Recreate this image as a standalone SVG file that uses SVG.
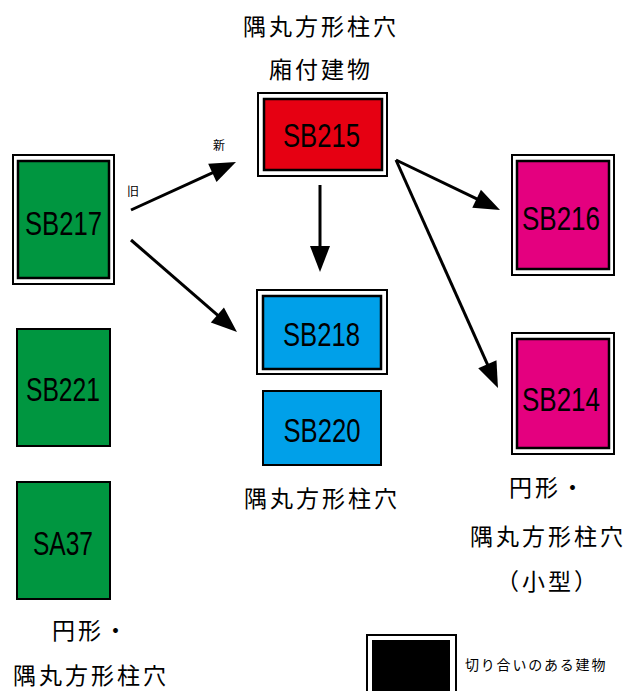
<svg xmlns="http://www.w3.org/2000/svg" width="630" height="691" viewBox="0 0 630 691">
<style>
.o{fill:#fff;stroke:#000;stroke-width:2}
.i{stroke:#000;stroke-width:2.5}
.s{stroke:#000;stroke-width:2}
.g{fill:#009640}.r{fill:#e60012}.b{fill:#00a0e9}.m{fill:#e4007f}.k{fill:#000}
.lb{font-family:"Liberation Sans","DejaVu Sans",sans-serif;font-size:34px;fill:#000;text-anchor:middle}
.jp{font-family:"Noto Sans CJK JP","Noto Sans",sans-serif;font-size:23px;letter-spacing:3px;fill:#000;text-anchor:middle}
.sm{font-family:"Noto Sans CJK JP","Noto Sans",sans-serif;font-size:12px;fill:#000}
.lg{font-family:"Noto Sans CJK JP","Noto Sans",sans-serif;font-size:14px;letter-spacing:1.8px;fill:#000}
.c{stroke:#000;stroke-width:3;fill:none;marker-end:url(#ah)}
</style>
<defs>
<marker id="ah" markerUnits="userSpaceOnUse" markerWidth="26" markerHeight="20" refX="6" refY="10" orient="auto" overflow="visible">
<path d="M0,0 L26,10 L0,20 z" fill="#000"/>
</marker>
</defs>
<g id="title">
<text class="jp" x="321" y="35">隅丸方形柱穴</text>
<text class="jp" x="321" y="78">廂付建物</text>
</g>
<g id="SB215">
<rect class="o" x="258" y="93" width="129" height="83"/>
<rect class="i r" x="264" y="99" width="118" height="71"/>
<text class="lb" x="321.5" y="147" textLength="77" lengthAdjust="spacingAndGlyphs">SB215</text>
</g>
<g id="SB217">
<rect class="o" x="13" y="155" width="101" height="129"/>
<rect class="i g" x="18" y="161" width="91" height="117"/>
<text class="lb" x="63.5" y="235" textLength="77" lengthAdjust="spacingAndGlyphs">SB217</text>
</g>
<g id="SB218">
<rect class="o" x="257" y="290" width="130" height="84"/>
<rect class="i b" x="263" y="296" width="118" height="73"/>
<text class="lb" x="321.5" y="346" textLength="77" lengthAdjust="spacingAndGlyphs">SB218</text>
</g>
<g id="SB220">
<rect class="s b" x="263" y="391" width="118" height="74"/>
<text class="lb" x="322" y="442" textLength="77" lengthAdjust="spacingAndGlyphs">SB220</text>
</g>
<g id="SB216">
<rect class="o" x="512" y="155" width="102" height="120"/>
<rect class="i m" x="517" y="161" width="92" height="108"/>
<text class="lb" x="561" y="230" textLength="78" lengthAdjust="spacingAndGlyphs">SB216</text>
</g>
<g id="SB214">
<rect class="o" x="512" y="333" width="102" height="121"/>
<rect class="i m" x="517" y="339" width="92" height="109"/>
<text class="lb" x="561" y="411" textLength="78" lengthAdjust="spacingAndGlyphs">SB214</text>
</g>
<g id="SB221">
<rect class="s g" x="17" y="329" width="93" height="117"/>
<text class="lb" x="63" y="401" textLength="74" lengthAdjust="spacingAndGlyphs">SB221</text>
</g>
<g id="SA37">
<rect class="s g" x="17" y="482" width="93" height="117"/>
<text class="lb" x="63" y="555" textLength="60" lengthAdjust="spacingAndGlyphs">SA37</text>
</g>
<g id="labels">
<text class="jp" x="322" y="507">隅丸方形柱穴</text>
<text class="jp" x="548" y="496">円形・</text>
<text class="jp" x="548" y="545">隅丸方形柱穴</text>
<text class="jp" x="548" y="590">（小型）</text>
<text class="jp" x="91" y="639">円形・</text>
<text class="jp" x="91" y="684">隅丸方形柱穴</text>
<text class="sm" x="127" y="196">旧</text>
<text class="sm" x="213" y="150">新</text>
</g>
<g id="legend">
<rect class="o" x="367" y="635" width="89" height="62"/>
<rect class="k" x="372" y="640" width="78" height="60"/>
<text class="lg" x="465" y="670">切り合いのある建物</text>
</g>
<g id="connectors">
<line class="c" x1="131" y1="210" x2="217.8" y2="170.3"/>
<line class="c" x1="131" y1="240" x2="221.9" y2="318.9"/>
<line class="c" x1="320" y1="185" x2="320" y2="252"/>
<line class="c" x1="396" y1="160" x2="482" y2="201.3"/>
<line class="c" x1="396" y1="160" x2="489.8" y2="369.7"/>
</g>
</svg>
